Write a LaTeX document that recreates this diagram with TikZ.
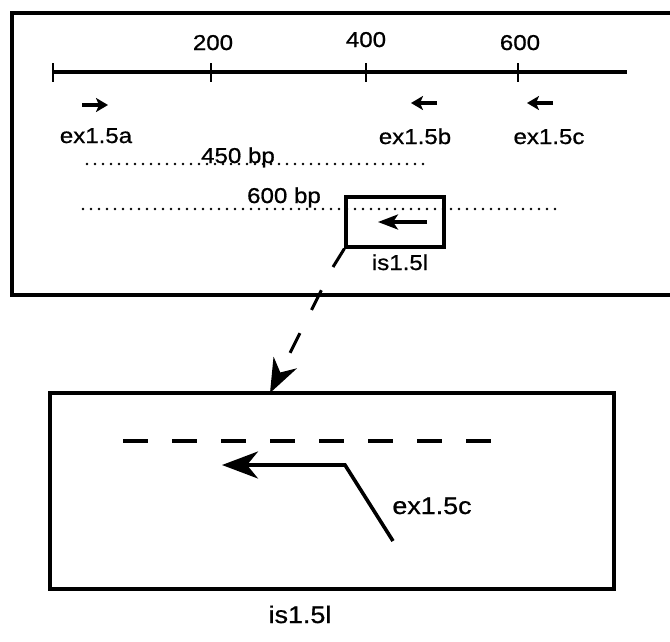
\documentclass[tikz,border=0pt]{standalone}
\usepackage{fontspec}
\setmainfont[FakeStretch=1.12,FakeBold=0.8]{Liberation Sans}
\usetikzlibrary{arrows.meta}
\begin{document}
\begin{tikzpicture}[x=1pt,y=-1pt,
 lbl/.style={font=\fontsize{21.5}{24}\selectfont, inner sep=0pt, anchor=base},
 biglbl/.style={font=\fontsize{24}{28}\selectfont, inner sep=0pt, anchor=base},
 frame/.style={line width=3.6pt},
 primer/.style={line width=3.2pt, -{Stealth[length=12pt,width=14pt,inset=3pt]}},
 dots/.style={line width=2.8pt, line cap=round, dash pattern=on 0pt off 8pt},
]
\useasboundingbox (0,0) rectangle (670,641);
% upper frame (right side cut off)
\draw[frame] (670,13) -- (12,13) -- (12,295) -- (670,295);
% scale
\coordinate (a0) at (53,72);
\coordinate (a1) at (627,72);
\draw[line width=3.2pt] (a0) -- (a1);
\foreach \x in {53,211,366,518} \draw[line width=2.8pt] (\x,63) -- (\x,82);
\node[lbl] (l200) at (213,50) {200};
\node[lbl] (l400) at (366,47) {400};
\node[lbl] (l600) at (520,50) {600};
% primers
\draw[primer] (82,105) -- (108,105);
\draw[primer] (437,103) -- (411,103);
\draw[primer] (553,103) -- (527,103);
\node[lbl] (pa) at (96,143) {ex1.5a};
\node[lbl] (pb) at (415,144) {ex1.5b};
\node[lbl] (pc) at (549,144) {ex1.5c};
% products
\draw[dots] (87,164) -- (423,164);
\node[lbl] (p450) at (238,163) {450 bp};
\draw[dots] (83,209) -- (558,209);
\node[lbl] (p600) at (284,203) {600 bp};
% small box
\node[draw, line width=3.2pt, minimum width=98pt, minimum height=50pt, inner sep=0pt] (smallbox) at (395,222) {};
\draw[line width=3.2pt, -{Stealth[length=20pt,width=15pt,inset=5pt]}] (427,222) -- (378,222);
\node[lbl] (is1) at (400,270) {is1.5l};
% big box
\node[draw, frame, minimum width=564pt, minimum height=196pt, inner sep=0pt] (bigbox) at (332,491) {};
% connector
\coordinate (bend) at (333,267);
\coordinate (tip) at (270,393);
\draw[line width=3pt] (smallbox.south west) -- (bend);
\draw[line width=3pt, dash pattern=on 22pt off 26pt, dash phase=22pt, -{Stealth[length=34pt,width=26pt,inset=11pt]}] (bend) -- (tip);
% inside big box
\draw[line width=4.4pt, dash pattern=on 25pt off 24pt] (123,441) -- (491,441);
\draw[line width=3.6pt, miter limit=10, -{Stealth[length=36pt,width=27pt,inset=11pt]}] (393,541) -- (345,465) -- (222,465);
\node[biglbl] (exc) at (432,514) {ex1.5c};
\node[biglbl] (is2) at (300,623) {is1.5l};
\end{tikzpicture}
\end{document}
